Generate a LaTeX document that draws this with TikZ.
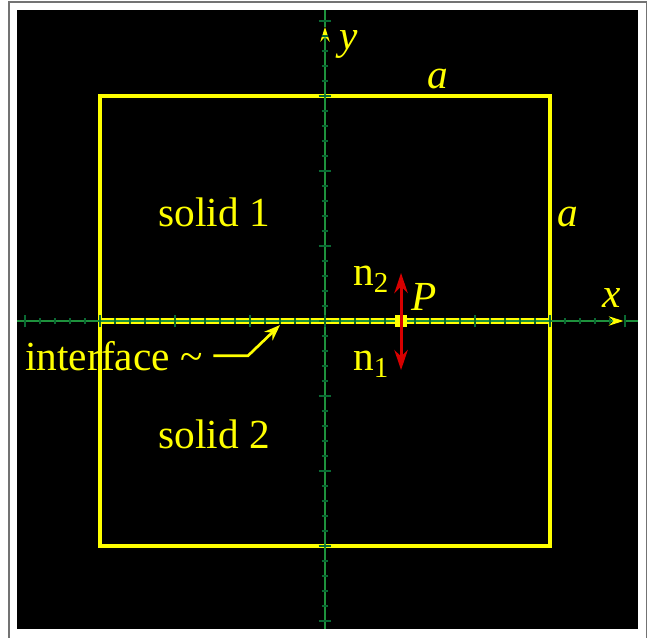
\documentclass[tikz,border=0pt]{standalone}
\usepackage{fontspec}
\setmainfont{Liberation Serif}
\usetikzlibrary{positioning, arrows.meta}

\definecolor{axisgreen}{RGB}{30,145,60}
\definecolor{tickgreen}{RGB}{10,105,50}
\definecolor{solidyellow}{RGB}{255,255,0}
\definecolor{normalred}{RGB}{215,0,0}

\begin{document}
\begin{tikzpicture}[
    x=11.25pt, y=11.25pt,
    >=Stealth,
    lbl/.style={text=solidyellow, font=\fontsize{31}{37}\selectfont, inner sep=0pt},
    ilbl/.style={lbl, font=\fontsize{31}{37}\selectfont\itshape},
    frameline/.style={draw=black!55, line width=1.3pt},
    axisline/.style={draw=axisgreen, line width=1.3pt},
    minortick/.style={draw=tickgreen, line width=1.3pt},
    boxline/.style={draw=solidyellow, line width=2.4pt},
    interfaceline/.style={draw=solidyellow, line width=5.2pt},
    axisarr/.style={axisline, -{Stealth[length=11pt, width=7pt, color=solidyellow]}},
    normalarr/.style={{Stealth[length=15pt, width=10pt]}-{Stealth[length=15pt, width=10pt]}, draw=normalred, line width=2.3pt},
    pointer/.style={->, draw=solidyellow, line width=2pt},
]

\useasboundingbox (-21.667,-21.067) rectangle (21.533,21.4);

% Frame and background
\draw[frameline] (-21.07,-21.5) -- (-21.07,21.27) -- (21.43,21.27) -- (21.43,-21.5);
\fill[black] (-20.53,-20.53) rectangle (20.87,20.73);

% Solid block
\draw[boxline] (-15,-15) rectangle (15,15);

% Interface
\coordinate (il) at (-15,0);
\coordinate (ir) at (15,0);
\draw[interfaceline] (il) -- (ir);

% Axes
\coordinate (xl) at (-20.53,0);
\coordinate (xtip) at (19.9,0);
\coordinate (xr) at (20.87,0);
\coordinate (yb) at (0,-20.53);
\coordinate (ytip) at (0,19.6);
\coordinate (yt) at (0,20.73);
\draw[axisarr] (xl) -- (xtip);
\draw[axisline] (xtip) -- (xr);
\draw[axisarr] (yb) -- (ytip);
\draw[axisline] (ytip) -- (yt);

% Ticks
\foreach \i in {-20,...,20} {
    \draw[minortick] (\i,-0.23) -- (\i,0.23);
    \draw[minortick] (-0.23,\i) -- (0.23,\i);
}
\foreach \i in {-20,-15,...,20} {
    \draw[minortick] (\i,-0.43) -- (\i,0.43);
    \draw[minortick] (-0.43,\i) -- (0.43,\i);
}

% Axis and size labels
\node[ilbl, anchor=base] (ylbl) at (1.6,18.13) {y};
\node[ilbl, anchor=base] (xlbl) at (19.13,0.93) {x};
\node[ilbl, anchor=base] (atop) at (7.53,15.53) {a};
\node[ilbl, anchor=base] (aright) at (16.2,6.27) {a};

% Solids
\node[lbl, anchor=base] (solid1) at (-7.4,6.33) {solid 1};
\node[lbl, anchor=base] (solid2) at (-7.4,-8.53) {solid 2};

% Point P and normals
\node[fill=solidyellow, minimum width=9pt, minimum height=9pt, inner sep=0pt] (pt) at (5.07,0) {};
\coordinate (ntop) at (5.07,3.2);
\coordinate (nbot) at (5.07,-3.27);
\draw[normalarr] (nbot) -- (ntop);
\node[ilbl, anchor=base] (plbl) at (6.6,0.73) {P};
\node[lbl, anchor=base west] (n2) at (1.87,2.4) {n\textsubscript{2}};
\node[lbl, anchor=base west] (n1) at (1.87,-3.27) {n\textsubscript{1}};

% Interface label
\node[lbl, anchor=base west] (intf) at (-20,-3.27) {interface \textasciitilde};
\coordinate (bend) at (-5.13,-2.4);
\coordinate (itip) at (-3,-0.27);
\draw[pointer, shorten <=8pt] (intf.east) -- (intf.east -| bend) -- (itip);

\end{tikzpicture}
\end{document}
